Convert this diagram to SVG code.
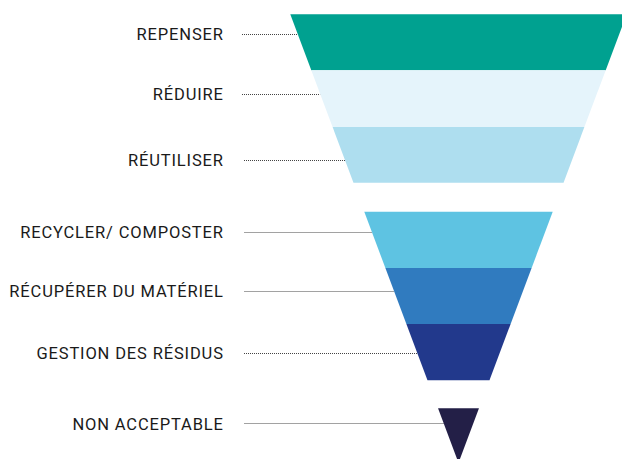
<svg xmlns="http://www.w3.org/2000/svg" width="622" height="459" viewBox="0 0 622 459">
<style>
.lbl{font-family:Roboto,"Liberation Sans",sans-serif;font-size:16.5px;letter-spacing:0.85px;fill:#1a1a1a;text-anchor:end;dominant-baseline:central}
.dot{stroke:#444;stroke-width:1;stroke-dasharray:1 1;fill:none}
</style>
<rect width="622" height="459" fill="#fff"/>
<g id="connectors">
<line class="dot" x1="242" y1="34.5" x2="297.8" y2="34.5"/>
<line class="dot" x1="242" y1="94.5" x2="320.3" y2="94.5"/>
<line class="dot" x1="244" y1="160.5" x2="345.3" y2="160.5"/>
<line class="dot" x1="244.5" y1="232.5" x2="372" y2="232.5"/>
<line class="dot" x1="244.5" y1="291.5" x2="394.3" y2="291.5"/>
<line class="dot" x1="244" y1="353.5" x2="417.4" y2="353.5"/>
<line class="dot" x1="244.5" y1="423.5" x2="443.7" y2="423.5"/>
</g>
<g id="repenser"><polygon points="290.3,14.3 626.7,14.3 605.7,70.3 311.3,70.3" fill="#00A190"/><text class="lbl" x="223.8" y="34.5">REPENSER</text></g>
<g id="reduire"><polygon points="311.3,70.3 605.7,70.3 584.4,127 332.6,127" fill="#E5F4FB"/><text class="lbl" x="223.8" y="94.5">RÉDUIRE</text></g>
<g id="reutiliser"><polygon points="332.6,127 584.4,127 563.55,182.7 353.45,182.7" fill="#AEDEEF"/><text class="lbl" x="223.8" y="160.5">RÉUTILISER</text></g>
<g id="recycler"><polygon points="364.3,211.7 552.7,211.7 531.6,268 385.4,268" fill="#5EC3E2"/><text class="lbl" x="223.8" y="232.5">RECYCLER/ COMPOSTER</text></g>
<g id="recuperer"><polygon points="385.4,268 531.6,268 510.6,324 406.4,324" fill="#307BBF"/><text class="lbl" x="223.8" y="291.5">RÉCUPÉRER DU MATÉRIEL</text></g>
<g id="gestion"><polygon points="406.4,324 510.6,324 489.5,380.3 427.5,380.3" fill="#22398C"/><text class="lbl" x="223.8" y="353.5">GESTION DES RÉSIDUS</text></g>
<g id="non-acceptable"><polygon points="438.05,408.3 478.95,408.3 458.5,462.8" fill="#231F47"/><text class="lbl" x="223.8" y="424">NON ACCEPTABLE</text></g>
</svg>
